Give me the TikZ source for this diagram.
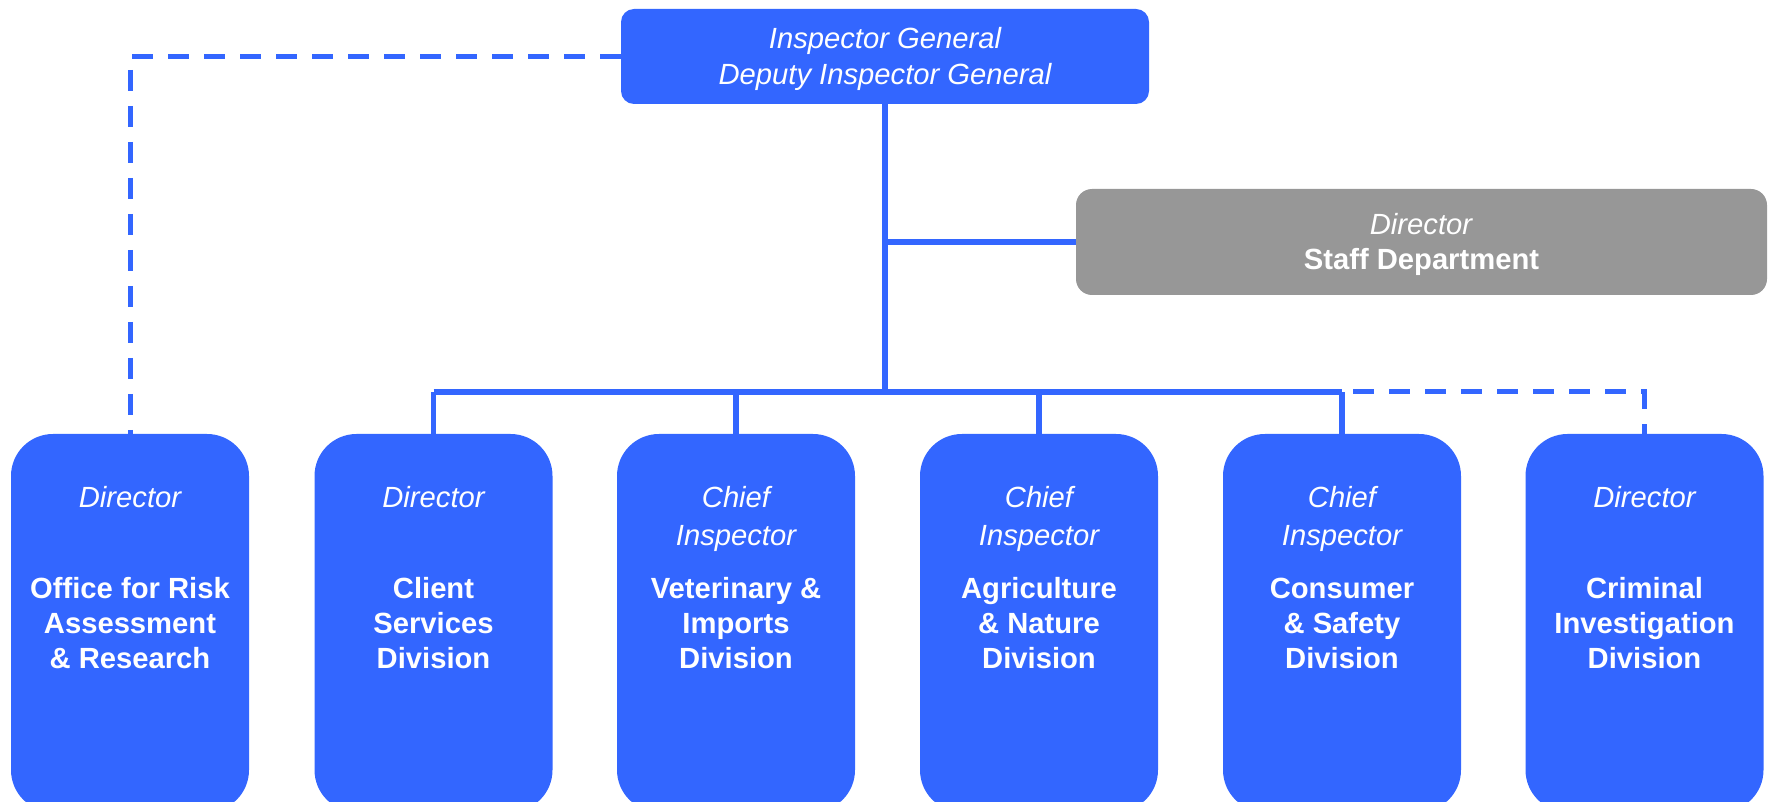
\documentclass[tikz,border=0pt]{standalone}
\usepackage{fontspec}
\setmainfont{Liberation Sans}
\definecolor{nvwablue}{RGB}{51,102,255}
\definecolor{staffgray}{RGB}{151,151,151}

\begin{document}
\begin{tikzpicture}[
        x=0.5pt, y=-0.5pt,
        box/.style={fill=nvwablue, text=white, align=center, inner sep=0pt, rounded corners=6.5pt},
        topbox/.style={box, minimum width=264pt, minimum height=47.5pt, font=\fontsize{14.6}{18}\selectfont\itshape},
        staffbox/.style={box, fill=staffgray, rounded corners=8pt, minimum width=345.5pt, minimum height=53pt, font=\fontsize{14.6}{17.5}\selectfont},
        unit/.style={box, rounded corners=21pt, minimum width=119pt, minimum height=189pt, font=\fontsize{14.6}{17.5}\selectfont\bfseries},
        role/.style={anchor=north, yshift=-26pt, inner sep=0pt, text=white, align=center, font=\fontsize{14.6}{19}\selectfont\itshape},
        link/.style={nvwablue, line width=2.6pt},
        dashlink/.style={link, line width=2.5pt, dash pattern=on 10.5pt off 7.5pt}
    ]
        \clip (0,0) rectangle (1769,802);

        \node[topbox] (ig) at (885,56.5) {\rule{0pt}{13.5pt}Inspector General\\Deputy Inspector General};
        \node[staffbox] (staff) at (1421.5,242) {\rule{0pt}{13pt}\textit{Director}\\\textbf{Staff Department}};

        \node[unit, label={[role]north:Director}] (risk) at (130,623) {Office for Risk\\Assessment\\\& Research};
        \node[unit, label={[role]north:Director}] (client) at (433.5,623) {Client\\Services\\Division};
        \node[unit, label={[role]north:Chief\\Inspector}] (vet) at (736,623) {Veterinary \&\\Imports\\Division};
        \node[unit, label={[role]north:Chief\\Inspector}] (agri) at (1039,623) {Agriculture\\\& Nature\\Division};
        \node[unit, label={[role]north:Chief\\Inspector}] (consumer) at (1342,623) {Consumer\\\& Safety\\Division};
        \node[unit, label={[role]north:Director}] (crime) at (1644.5,623) {Criminal\\Investigation\\Division};

        \coordinate (bus) at (885,392);

        \draw[link] (ig.south) -- (bus);
        \draw[link] (staff.west) -- (ig.south |- staff.west);
        \draw[link] (client.north |- bus) -- (consumer.north |- bus);
        \draw[link] (client.north) -- (client.north |- bus);
        \draw[link] (vet.north) -- (vet.north |- bus);
        \draw[link] (agri.north) -- (agri.north |- bus);
        \draw[link] (consumer.north) -- (consumer.north |- bus);

        \draw[dashlink] (ig.west) -| (risk.north);
        \draw[dashlink] (bus) -| (crime.north);
    \end{tikzpicture}
\end{document}
